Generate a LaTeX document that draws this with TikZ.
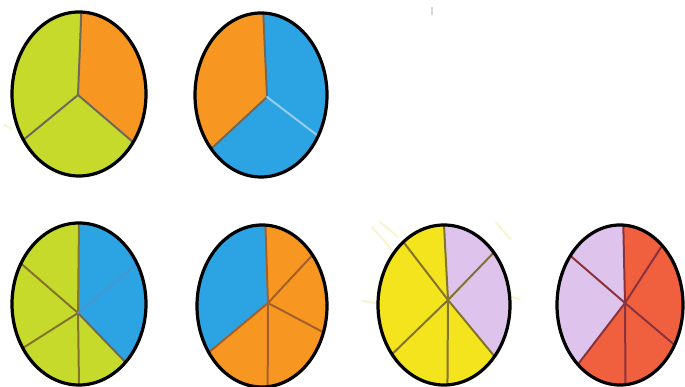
\documentclass[tikz,border=0pt]{standalone}
\usetikzlibrary{calc}
\definecolor{pgreen}{RGB}{198,218,44}
\definecolor{porange}{RGB}{248,150,34}
\definecolor{pblue}{RGB}{44,164,228}
\definecolor{pyellow}{RGB}{244,228,30}
\definecolor{plav}{RGB}{222,196,236}
\definecolor{pred}{RGB}{240,96,62}
\definecolor{dgray}{RGB}{110,105,90}
\definecolor{dblue}{RGB}{150,205,240}
\definecolor{dfaint}{RGB}{70,150,210}
\definecolor{dorange}{RGB}{165,95,40}
\definecolor{dolive}{RGB}{130,115,45}
\definecolor{dred}{RGB}{140,50,60}
\definecolor{smear}{RGB}{240,225,120}
\tikzset{
  outline/.style={draw=black,line width=3.2pt},
  divider/.style={line width=2pt,line cap=round},
  smearline/.style={draw=smear,line width=2pt,opacity=0.35,line cap=round}
}
% #1 cx, #2 cy, #3 rx, #4 ry, #5 hub, #6 list start/end/fill/divider
\newcommand\drawpie[6]{%
  \foreach \a/\b/\c/\d in {#6} {
    \fill[\c] (#5) -- ([shift={(#1,#2)}]\a:#3pt and #4pt)
      arc[start angle=\a, end angle=\b, x radius=#3pt, y radius=#4pt] -- cycle;
  }
  \foreach \a/\b/\c/\d in {#6} {
    \draw[divider,draw=\d] (#5) -- ([shift={(#1,#2)}]\a:#3pt and #4pt);
  }
  \draw[outline] (#1,#2) ellipse[x radius=#3pt, y radius=#4pt];
}
\begin{document}
\begin{tikzpicture}[x=1pt,y=1pt]
\useasboundingbox (0,0) rectangle (685,387);
\fill[white] (0,0) rectangle (685,387);
% faint smears
\draw[smearline] (372,160) -- (392,137);
\draw[smearline] (380,165) -- (398,150);
\draw[smearline] (496,165) -- (510,148);
\draw[smearline] (362,86) -- (376,84);
\draw[smearline] (512,90) -- (520,88);
\draw[smearline] (4,262) -- (12,258);
\draw[draw=black!15,line width=1.5pt] (432,372) -- (432,380);
% top row
\drawpie{79}{293}{67}{82}{78,292}{88/214/pgreen/dgray, 214/324/pgreen/dgray, 324/448/porange/dgray}
\drawpie{261}{292}{66}{82}{267,290}{88/221/porange/dgray, 221/330/pblue/dgray, 330/448/pblue/dblue}
% bottom row
\drawpie{79}{83}{67}{81}{78,74}{90/150/pgreen/dolive, 150/213/pgreen/dolive, 213/270/pgreen/dolive, 270/314/pgreen/dolive, 314/390/pblue/dgray, 390/450/pblue/dfaint}
\drawpie{262}{81}{65}{81}{268,84}{87/215/pblue/dorange, 215/275/porange/dorange, 275/341/porange/dorange, 341/399/porange/dorange, 399/447/porange/dorange}
\drawpie{444}{82}{66}{80}{448,87}{90/128/pyellow/dolive, 128/218/pyellow/dolive, 218/273/pyellow/dolive, 273/320/pyellow/dolive, 320/401/plav/dolive, 401/450/plav/dolive}
\drawpie{620}{82}{63}{80}{625,84}{87/142/plav/dred, 142/228/plav/dred, 228/275/pred/dred, 275/330/pred/dred, 330/408/pred/dred, 408/447/pred/dred}
\end{tikzpicture}
\end{document}
